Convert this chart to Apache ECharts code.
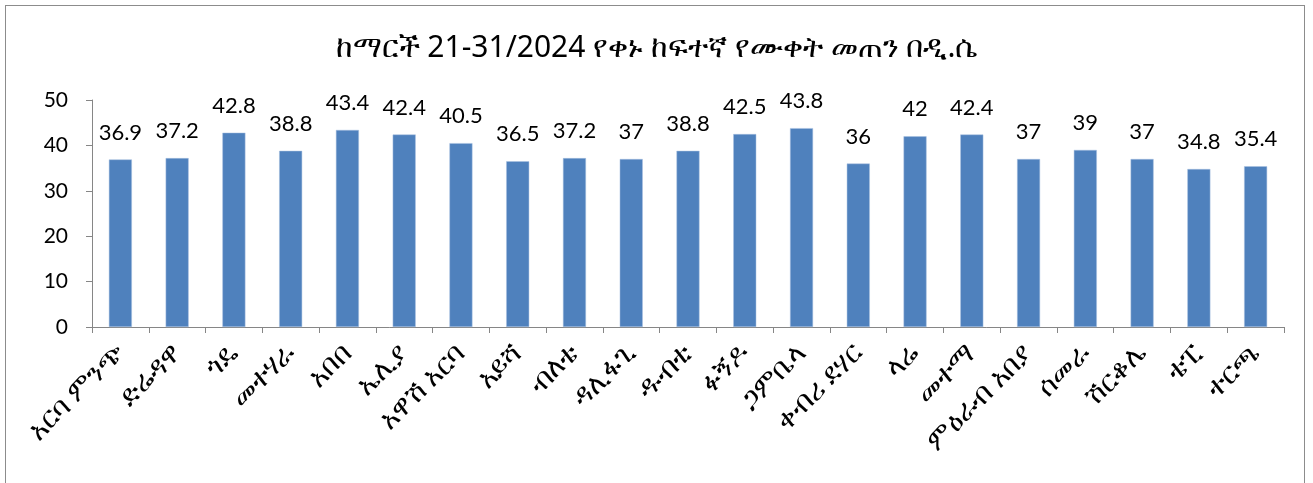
<!DOCTYPE html>
<html>
<head>
<meta charset="utf-8">
<script src="https://cdn.jsdelivr.net/npm/echarts@6/dist/echarts.min.js"></script>
<style>
html,body{margin:0;padding:0;background:#fff;}
#frame{position:absolute;left:5px;top:5px;width:1300px;height:478px;border:1px solid #8c8c8c;border-bottom:none;box-sizing:border-box;}
#c{position:absolute;left:0;top:0;width:1313px;height:483px;}
</style>
</head>
<body>
<div id="frame"></div>
<div id="c"></div>
<script>
const titleText = 'ከማርች 21-31/2024 የቀኑ ከፍተኛ የሙቀት መጠን በዲ.ሴ';
const categories = ['አርባ ምንጭ','ድሬዳዋ','ጎዴ','መተሃራ','አበበ','ኤሊያ','አዋሽ አርባ','አይሻ','ብለቴ','ዳሊፋጊ','ዱብቲ','ፉኝዶ','ጋምቤላ','ቀብሪ ደሃር','ላሬ','መተማ','ምዕራብ አበያ','ሰመራ','ሽርቆሌ','ቴፒ','ተርጫ'];
const values = [36.9,37.2,42.8,38.8,43.4,42.4,40.5,36.5,37.2,37,38.8,42.5,43.8,36,42,42.4,37,39,37,34.8,35.4];
const yTicks = [0,10,20,30,40,50];

const chart = echarts.init(document.getElementById('c'));
chart.setOption({
  animation:false,
  backgroundColor:'transparent',
  title:{text:titleText,left:'center',top:28,textStyle:{fontSize:30,fontWeight:'normal',color:'#000',fontFamily:'"Noto Sans", "DejaVu Sans", sans-serif'}},
  grid:{left:92,right:29,top:100,bottom:156,containLabel:false},
  xAxis:{type:'category',data:categories,
    axisLine:{lineStyle:{color:'#868686',width:1}},
    axisTick:{show:true,alignWithLabel:false,length:6,lineStyle:{color:'#868686'}},
    axisLabel:{rotate:45,interval:0,fontSize:28,color:'#000',margin:22,fontFamily:'"Noto Sans", "DejaVu Sans", sans-serif'}
  },
  yAxis:{type:'value',min:yTicks[0],max:yTicks[yTicks.length-1],interval:10,
    axisLine:{show:true,lineStyle:{color:'#868686'}},
    axisTick:{show:true,length:6,lineStyle:{color:'#868686'}},
    splitLine:{show:false},
    axisLabel:{fontSize:21,color:'#000',margin:24,fontFamily:'Lato, "Open Sans", sans-serif'}
  },
  series:[{type:'bar',data:values,barWidth:23,
    itemStyle:{color:'#4F81BD',borderColor:'#a9c1e0',borderWidth:0.5},
    label:{show:true,position:'top',distance:16,fontSize:22,color:'#000',fontFamily:'Lato, "Open Sans", sans-serif'}
  }]
});
</script>
</body>
</html>
